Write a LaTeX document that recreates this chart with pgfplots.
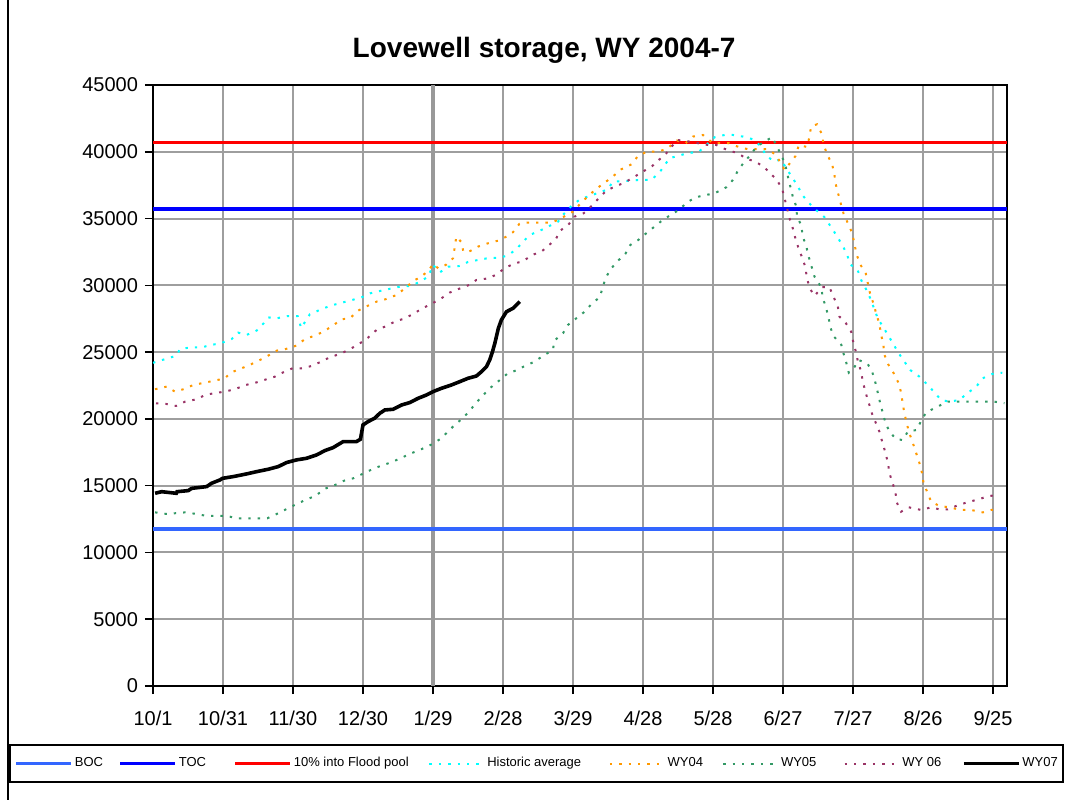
\documentclass[border=0pt]{standalone}
\usepackage{pgfplots}
\pgfplotsset{compat=1.18}
\usepackage{fontspec}
\setmainfont{Liberation Sans}
\definecolor{bocblue}{HTML}{3366FF}
\definecolor{tocblue}{HTML}{0000FF}
\definecolor{floodred}{HTML}{FF0000}
\definecolor{histcyan}{HTML}{00FFFF}
\definecolor{wyorange}{HTML}{FF9900}
\definecolor{wygreen}{HTML}{339966}
\definecolor{wypurple}{HTML}{993366}
\begin{document}
\begin{tikzpicture}
\useasboundingbox (-76.5pt,-59pt) rectangle (463.5pt,343pt);
\draw[line width=1pt] (-72.5pt,343pt) -- (-72.5pt,-57pt);
\begin{axis}[
  scale only axis, width=427pt, height=300.5pt,
  clip mode=individual,
  xmin=0, xmax=366, ymin=0, ymax=45000,
  xtick={0,30,...,360},
  xticklabels={10/1,10/31,11/30,12/30,1/29,2/28,3/29,4/28,5/28,6/27,7/27,8/26,9/25},
  ytick={0,5000,...,45000},
  extra x ticks={120}, extra x tick labels={},
  extra x tick style={grid style={line width=2pt,color=black!40}},
  xtick pos=bottom, ytick pos=left,
  tick align=outside, major tick length=4pt,
  tick style={black, line width=0.8pt},
  grid=major, grid style={line width=1pt, color=black!38},
  axis line style={line width=1pt},
  scaled y ticks=false,
  /pgf/number format/assume math mode=true,
  yticklabel style={/pgf/number format/.cd, fixed, 1000 sep={}},
  ticklabel style={font=\fontsize{10}{12}\selectfont},
  xticklabel style={yshift=-5pt},
  legend columns=8,
  legend style={at={(axis description cs:0.4496,-0.129)}, anchor=center,
    font=\fontsize{6.5}{7.5}\selectfont, draw=black, line width=1pt,
    inner xsep=2pt, inner ysep=4pt,
    nodes={inner xsep=0.8pt},
    /tikz/every even column/.append style={column sep=0pt}},
  legend image code/.code={\draw[#1] (0cm,0cm) -- (0.97cm,0cm);},
]
\addplot[bocblue, line width=1.8pt] coordinates {(0,11750) (366,11750)};
\addlegendentry{\makebox[21pt][l]{BOC}}
\addplot[tocblue, line width=1.8pt] coordinates {(0,35700) (366,35700)};
\addlegendentry{\makebox[26.5pt][l]{TOC}}
\addplot[floodred, line width=1.8pt] coordinates {(0,40700) (366,40700)};
\addlegendentry{\makebox[66.5pt][l]{10\% into Flood pool}}
% Historic average
\addplot[histcyan, line width=1pt, dash pattern=on 1.2pt off 3.5pt] table {
0 24200
10 24730
11.6 25240
16.5 25360
21 25360
25 25540
29 25660
33.7 25980
36.5 26460
40 26280
44.4 26610
47.2 27110
49.4 27600
53 27530
57.8 27700
62 27700
63.5 26800
67.2 27830
71.5 28160
75.8 28460
80 28660
84.4 28860
89.4 29100
93 29400
96.5 29550
101.2 29730
105.8 29900
110 29950
113.6 30200
118 30650
120 31530
123 30980
126.5 31400
131.5 31450
135 31750
139.3 31900
144 32050
148 32050
152 32230
155.7 32700
158.6 33270
161.5 33770
166.5 34150
170 34450
173.6 34770
175.7 35270
179.3 35940
183 36440
195 37190
197 37760
209 37890
213.5 37890
217 38440
221.4 39520
229 39890
234 40010
240.7 41090
245 41260
248.5 41260
252.8 41140
257 40940
260.7 40390
262.8 39690
266.4 39270
269 39440
272.8 38390
276 37520
278.5 36720
281 36190
284.5 35590
287.8 35100
291.6 34100
295.6 32970
297.3 32350
299 31530
301.8 31230
303.5 30400
305.4 29780
307.4 29030
310.6 27530
315 26280
319.6 24910
324.5 23660
328.5 23160
332 22540
335 21970
337.7 21420
341.3 21290
345.6 21420
349 21920
352.8 22410
355.6 23040
359.6 23360
364 23460
};
\addlegendentry{\makebox[60pt][l]{Historic average}}
% WY04
\addplot[wyorange, line width=1pt, dash pattern=on 1.2pt off 3.5pt] table {
0.9 22220
5.9 22420
9.4 22040
13 22220
17.3 22540
22.3 22720
26.6 22870
30.8 23040
33.3 23460
38 23790
42.3 24110
45.8 24410
49.4 24740
53 25110
56.5 25210
61.5 25490
65 25960
68.9 26210
72.2 26460
76.5 26910
80.8 27460
84.4 27530
87.9 28110
92.2 28480
95.8 28780
99.7 28960
104.4 29280
108 29780
111.5 30330
115 30650
118.3 31150
120 31600
122.2 31280
125.5 31530
128.6 32030
130 33650
132.2 33230
133 32530
135.5 32530
139.3 32900
143.6 33150
148 33350
151.5 33650
154.3 33980
157 34600
160.7 34700
165.7 34700
170.7 34700
173.6 34900
180 35520
183.6 36200
187 36770
190.3 37270
193.6 37690
197 38140
200.7 38690
205.4 39090
207.8 39690
211.7 40010
216 40010
220 40190
224.6 40840
228.3 40640
231.4 41140
235.7 41260
240 40640
246.8 40640
251 40360
255 40190
259.7 40190
263.5 40190
267 39760
270.7 38640
275.4 39690
276.8 40510
280.2 40360
281.4 41140
282 41890
284.6 42060
286.8 41260
287.4 40510
289.2 39690
291 39090
292 38340
292.5 37640
295 35950
296 35350
297.8 34650
299.7 33900
300.6 33100
301.6 32280
303.2 31530
305.4 30950
306.3 30200
307.3 29400
308.8 28610
310 27860
311.3 27110
312 26360
313 25540
313.5 24790
315 24110
317.3 23460
319.6 22670
320.6 21970
321.3 21170
322 20420
323 19720
323.9 19050
325.6 18220
327 17470
328.5 16680
329.6 15930
330.2 15230
332 14430
333.5 13800
337 13480
341.3 13380
346.3 13180
350.6 13180
355.6 13000
359.2 13180
362.7 13180
};
\addlegendentry{\makebox[26.5pt][l]{WY04}}
% WY05
\addplot[wygreen, line width=1pt, dash pattern=on 1.2pt off 3.5pt] table {
0.9 13000
5.9 12880
13.7 13000
18.7 12880
23 12730
27.5 12730
31.8 12730
35.8 12560
40.8 12560
45.1 12560
49 12560
53 12880
62.2 13680
66 13980
69.8 14250
73.4 14750
78 15050
82 15380
85.8 15550
93.4 16180
97.5 16480
102.2 16750
107 17130
110.8 17430
115 17730
119 18050
123 18480
126 18970
129.3 19550
132.2 19970
135.5 20540
138 21120
144.3 22290
148.3 22860
151.7 23360
156 23660
159.3 23960
163.6 24290
167 24710
171.4 25160
172 25860
175.7 26410
177.8 27030
185 28030
188 28610
191.4 29110
192.8 29860
193.9 30530
196.1 31200
198.9 31780
202.4 32350
204.6 33030
208 33400
211.4 33900
215.3 34450
218.5 34900
225.4 35650
228.8 36200
232.5 36590
237.1 36770
240.7 36890
245.7 37340
248.5 37890
250.7 38590
253.5 39270
255.7 39690
258.6 40360
262 40770
265.4 41090
267.8 40260
269.7 39580
271 39010
272.1 38140
274.2 36640
275.7 35890
276 35140
277.8 34520
278.5 33650
280 32900
281 32150
283.5 30650
286.4 29860
287 29110
288.5 28280
289.6 27530
290.2 26910
291.6 26210
295 25540
296 24860
297.4 24040
298.2 23460
300 23710
302.5 24410
306.3 24110
308.2 23540
309.6 22710
310.6 21970
311.6 21220
312.8 20420
313.9 19720
315.6 19050
318.5 18480
321.3 18420
323.5 19050
327.3 19170
329.2 19870
331.3 20470
335.6 20870
340.6 21290
344.9 21290
348.2 21290
352.5 21290
356.3 21290
360.6 21290
364.9 21170
};
\addlegendentry{\makebox[30.5pt][l]{WY05}}
% WY 06
\addplot[wypurple, line width=1pt, dash pattern=on 1.2pt off 3.5pt] table {
1.3 21170
5.6 21120
9.9 20970
13.7 21290
18.7 21470
22.3 21790
26.1 21920
30.8 22040
35 22220
39.8 22540
44.1 22720
52.2 23160
55.5 23460
59.8 23790
63.7 23790
68 23960
71.5 24240
75.8 24610
80.8 24910
85.1 25290
88.7 25660
92.2 26090
95.8 26660
99.4 26910
103.6 27280
108 27530
111.5 27860
115.5 28280
119.8 28660
123.6 29030
127.2 29460
130.7 29710
135.5 30030
138.6 30400
144 30530
147.5 30850
150.7 31280
155 31650
158.3 31780
162.6 32280
166.5 32530
169.3 32950
172.6 33450
174.6 34100
178.3 34600
180.7 35150
184.6 35400
188 35950
191.4 36590
194.3 37090
197.9 37390
202.1 37690
206.4 38140
210 38520
214 38940
216.8 39390
220 39890
224.6 40890
230 40760
237.8 40510
241.4 40510
246 40140
250.7 39890
254 39520
257.8 39270
261.4 38940
264.2 38440
267.4 37890
269.7 37190
272.8 35020
274.2 34270
275.4 33450
276.8 32700
278.5 31950
279.7 31280
280.2 30530
281.7 29710
283.5 29210
286.8 29860
289.9 29860
291.6 29160
293.5 28410
294.2 27660
296.8 27210
299.2 26530
299.9 25910
301.4 24910
302.1 24290
303.5 23540
304.2 22790
305.4 21970
306.8 21170
308.2 20370
311.3 19050
312.5 18300
313.9 17470
315 16680
315.6 15930
316.8 15300
318.2 14480
318.8 13730
320.6 13050
323.9 13380
329.2 13180
333.5 13380
337 13230
340.6 13230
345.3 13560
349.9 13800
353.9 13980
357.3 14180
361 14300
};
\addlegendentry{\makebox[29pt][l]{WY 06}}
% WY07
\addplot[black, line width=1.8pt] table {
0.9 14430
3.7 14550
10 14430
10.3 14550
15.1 14630
16.6 14800
23 14930
25.1 15180
28.7 15430
29.8 15550
34.4 15680
40.1 15880
44.4 16050
49.4 16230
53.7 16430
57.2 16730
61.5 16930
65.8 17050
70.1 17300
73.7 17630
77.2 17850
81.5 18300
87.2 18300
88.9 18480
90 19550
92.2 19800
95 20050
97.2 20420
99.4 20670
102.9 20720
106.5 21040
110 21220
113.6 21540
117.2 21790
120 22040
123.6 22290
127.9 22540
131.5 22790
135 23040
138.6 23210
140.8 23540
142.9 23910
144.3 24410
145.5 25040
146.5 25660
148 26780
149.3 27410
151.5 28030
154.3 28280
157.2 28780
};
\addlegendentry{WY07}
\node[font=\bfseries\fontsize{14}{16}\selectfont] at (axis description cs:0.458,1.058) {Lovewell storage, WY 2004-7};
\end{axis}
\end{tikzpicture}
\end{document}
